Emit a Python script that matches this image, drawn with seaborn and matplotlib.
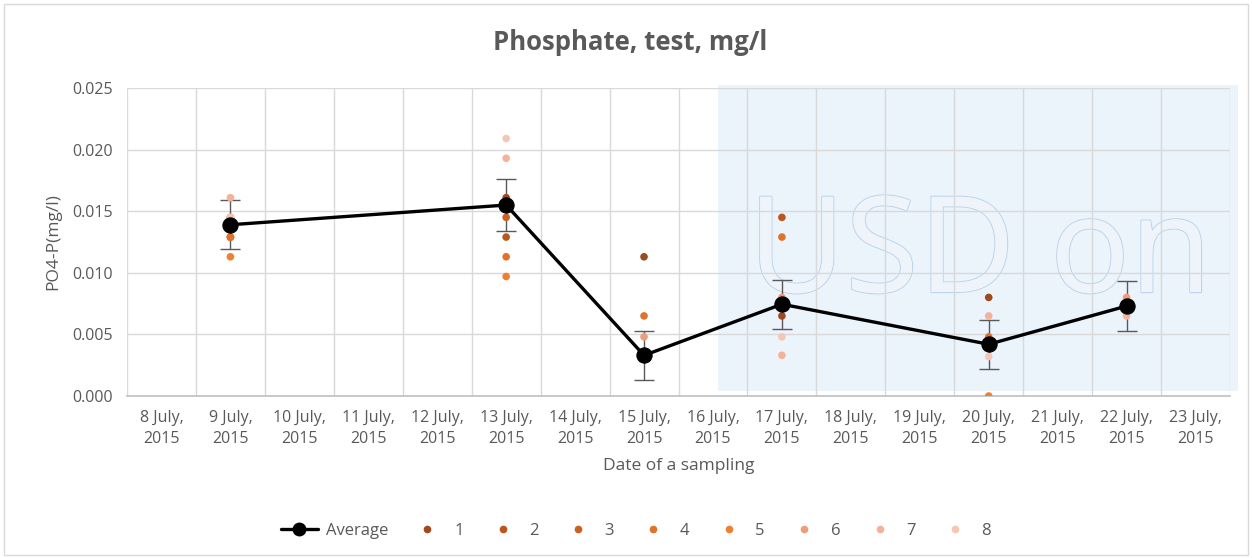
import numpy as np
import pandas as pd
import seaborn as sns
import matplotlib.pyplot as plt
from matplotlib.lines import Line2D
from matplotlib.patches import Rectangle
import matplotlib.patheffects as pe

# ---- data ----
all_dates = ["8 July,\n2015", "9 July,\n2015", "10 July,\n2015", "11 July,\n2015",
             "12 July,\n2015", "13 July,\n2015", "14 July,\n2015", "15 July,\n2015",
             "16 July,\n2015", "17 July,\n2015", "18 July,\n2015", "19 July,\n2015",
             "20 July,\n2015", "21 July,\n2015", "22 July,\n2015", "23 July,\n2015"]
sample_dates = ["9 July,\n2015", "13 July,\n2015", "15 July,\n2015",
                "17 July,\n2015", "20 July,\n2015", "22 July,\n2015"]
average = [0.0139, 0.0155, 0.0033, 0.00745, 0.0042, 0.0073]
error = [0.0020, 0.0021, 0.0020, 0.0020, 0.0020, 0.0020]
nan = np.nan
s1 = [0.0145, 0.0161, 0.0113, 0.0065, 0.0080, nan]
s2 = [0.0129, 0.0129, nan, 0.0145, nan, nan]
s3 = [0.0129, 0.0145, nan, nan, nan, nan]
s4 = [0.0129, 0.0113, 0.0065, 0.0129, 0.0048, nan]
s5 = [0.0113, 0.0097, nan, nan, 0.0000, nan]
s6 = [0.0145, nan, 0.0048, 0.0080, nan, 0.0080]
s7 = [0.0161, 0.0193, 0.0033, 0.0033, 0.0065, 0.0065]
s8 = [0.0145, 0.0209, nan, 0.0048, 0.0032, nan]
series_names = ["1", "2", "3", "4", "5", "6", "7", "8"]
series_values = [s1, s2, s3, s4, s5, s6, s7, s8]
series_colors = ["#9E4A1C", "#B9561C", "#CC6222", "#E0722C", "#F07F30",
                 "#F09C7A", "#F3B29A", "#F6C6B4"]

# ---- build tables ----
pos = {d: i for i, d in enumerate(all_dates)}
rows = []
for name, vals in zip(series_names, series_values):
    for d, v in zip(sample_dates, vals):
        if not np.isnan(v):
            rows.append({"x": pos[d], "value": v, "series": name})
pts = pd.DataFrame(rows)
avg = pd.DataFrame({"x": [pos[d] for d in sample_dates], "value": average, "err": error})

sns.set_theme(style="white")
plt.rcParams['font.family'] = ['Open Sans', 'DejaVu Sans']
grey = "#595959"

fig = plt.figure(figsize=(12.52, 5.58), dpi=100)
ax = fig.add_axes([127/1252, 1 - 396/558, (1230-127)/1252, (396-88)/558])
ax.set_zorder(3)
ax.set_facecolor("none")

# shaded overlay region (behind the axes content)
fig.patches.append(Rectangle((718/1252, 1 - 391/558), (1238-718)/1252, (391-85)/558,
                             transform=fig.transFigure, facecolor="#EBF3FB",
                             edgecolor="none", zorder=1))
# outer chart border
fig.patches.append(Rectangle((4/1252, 3/558), 1244/1252, 551/558,
                             transform=fig.transFigure, facecolor="none",
                             edgecolor="#D9D9D9", linewidth=1.0, zorder=1))

# watermark
fig.text(980/1252, 1 - 257/558, "USD on", ha="center", va="center", fontsize=96,
         color="#EEF4FA", zorder=2,
         path_effects=[pe.withStroke(linewidth=1.6, foreground="#BDD4EC"),
                       pe.Normal()])

# grid
for yv in np.arange(0.005, 0.0251, 0.005):
    ax.axhline(yv, color="#D9D9D9", lw=1.0, zorder=0)
for xv in np.arange(-0.5, 16, 1):
    ax.axvline(xv, color="#D9D9D9", lw=1.0, zorder=0)

# error bars
ax.errorbar(avg["x"], avg["value"], yerr=avg["err"], fmt="none", ecolor="#595959",
            elinewidth=1.0, capsize=7, capthick=1.0, zorder=2)

# average line
sns.lineplot(data=avg, x="x", y="value", ax=ax, color="black", lw=2.4,
             marker="o", markersize=11, markeredgecolor="black", zorder=4, legend=False)

# sample points
sns.scatterplot(data=pts, x="x", y="value", hue="series", hue_order=series_names,
                palette=series_colors, s=30, edgecolor="none", ax=ax, zorder=3, legend=False)

ax.set_xlim(-0.5, 15.5)
ax.set_ylim(0, 0.025)
ax.set_xticks(range(len(all_dates)))
ax.set_xticklabels(all_dates, color=grey, fontsize=11.5, linespacing=1.45)
ax.set_yticks(np.arange(0, 0.0251, 0.005))
ax.set_yticklabels([f"{v:.3f}" for v in np.arange(0, 0.0251, 0.005)], color=grey, fontsize=11.5)
ax.tick_params(axis="both", length=0, pad=10)
for s in ["top", "right", "left"]:
    ax.spines[s].set_visible(False)
ax.spines["bottom"].set_color("#BFBFBF")
ax.spines["bottom"].set_linewidth(1.2)

ax.set_xlabel("Date of a sampling", color=grey, fontsize=12.5, labelpad=8)
ax.set_ylabel("PO4-P(mg/l)", color=grey, fontsize=12.5, labelpad=8)

fig.text(630/1252, 1 - 43/558, "Phosphate, test, mg/l", ha="center", va="center",
         fontsize=18.5, fontweight="bold", color=grey)

# legend
handles = [Line2D([0], [0], color="black", lw=2.4, marker="o", markersize=9)]
for c in series_colors:
    handles.append(Line2D([0], [0], color=c, lw=0, marker="o", markersize=4.5))
labels = ["Average"] + series_names
fig.legend(handles, labels, loc="center", bbox_to_anchor=(636/1252, 1 - 531/558),
           ncol=9, frameon=False, fontsize=12, columnspacing=1.25, handlelength=2.2,
           handletextpad=0.5, labelcolor=grey)

fig.savefig("out.png", dpi=100)
